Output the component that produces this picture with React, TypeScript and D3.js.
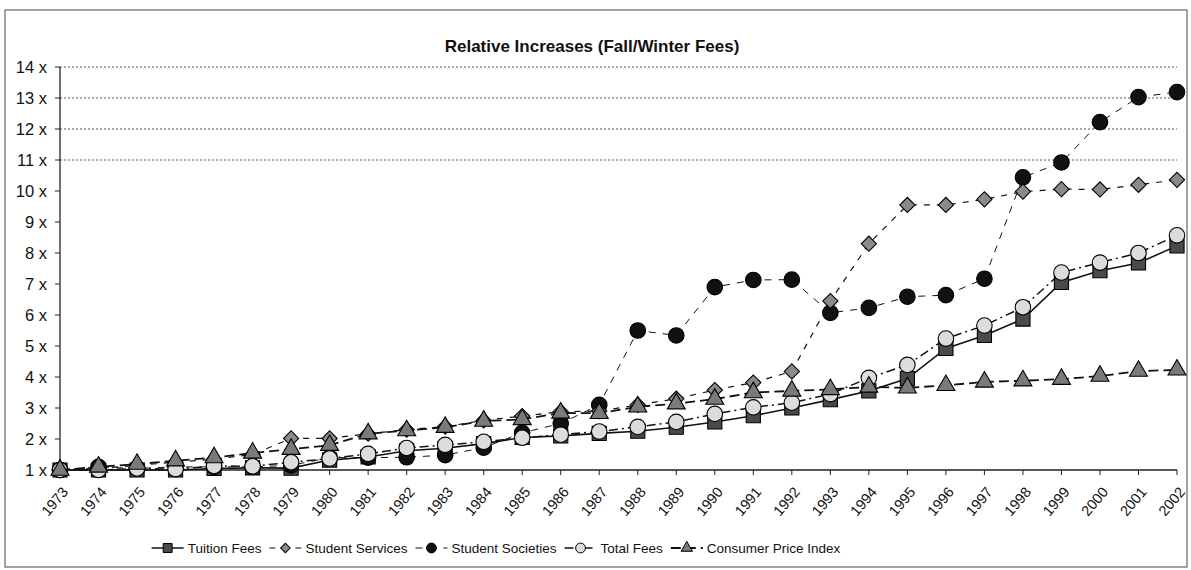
import { useMemo } from 'react'
import * as d3 from 'd3'

const years = [
  '1973', '1974', '1975', '1976', '1977', '1978', '1979', '1980', '1981', '1982',
  '1983', '1984', '1985', '1986', '1987', '1988', '1989', '1990', '1991', '1992',
  '1993', '1994', '1995', '1996', '1997', '1998', '1999', '2000', '2001', '2002',
]

const tuitionFees = [1.0, 1.0, 1.0, 1.0, 1.05, 1.07, 1.06, 1.32, 1.42, 1.62, 1.7, 1.85, 2.05, 2.1, 2.18, 2.25, 2.38, 2.55, 2.75, 3.0, 3.27, 3.55, 3.95, 4.92, 5.34, 5.87, 7.05, 7.43, 7.68, 8.23]
const studentServices = [1.0, 1.05, 1.15, 1.25, 1.35, 1.5, 2.02, 2.02, 2.17, 2.3, 2.4, 2.6, 2.74, 2.88, 2.9, 3.1, 3.3, 3.58, 3.82, 4.18, 6.45, 8.3, 9.55, 9.55, 9.73, 9.98, 10.06, 10.05, 10.2, 10.36]
const studentSocieties = [1.0, 1.1, 1.05, 1.1, 1.1, 1.1, 1.15, 1.4, 1.4, 1.41, 1.48, 1.72, 2.2, 2.5, 3.1, 5.5, 5.34, 6.9, 7.13, 7.14, 6.07, 6.23, 6.59, 6.64, 7.17, 10.44, 10.92, 12.22, 13.03, 13.19]
const totalFees = [1.0, 1.0, 1.05, 1.03, 1.13, 1.12, 1.25, 1.37, 1.52, 1.71, 1.81, 1.91, 2.04, 2.14, 2.24, 2.39, 2.55, 2.81, 3.02, 3.17, 3.45, 3.97, 4.39, 5.24, 5.66, 6.25, 7.37, 7.69, 8.0, 8.57]
const consumerPriceIndex = [1.0, 1.1, 1.19, 1.3, 1.4, 1.55, 1.67, 1.8, 2.17, 2.27, 2.38, 2.58, 2.63, 2.84, 2.83, 3.04, 3.14, 3.29, 3.5, 3.55, 3.6, 3.68, 3.65, 3.73, 3.84, 3.88, 3.93, 4.03, 4.19, 4.23]

const yTicks = [1, 2, 3, 4, 5, 6, 7, 8, 9, 10, 11, 12, 13, 14]
const gridTicks = [11, 12, 13, 14]

type Series = {
  name: string
  values: number[]
  symbol: d3.SymbolType
  size: number
  rotate: number
  fill: string
  dash: string
  width: number
}

// drawing order matters: later series sit on top
const series: Series[] = [
  { name: 'Tuition Fees', values: tuitionFees, symbol: d3.symbolSquare, size: 200, rotate: 0, fill: '#4a4a4a', dash: '', width: 1.6 },
  { name: 'Student Societies', values: studentSocieties, symbol: d3.symbolCircle, size: 190, rotate: 0, fill: '#111', dash: '7,7', width: 1 },
  { name: 'Student Services', values: studentServices, symbol: d3.symbolSquare, size: 115, rotate: 45, fill: '#8a8a8a', dash: '6,7', width: 1.2 },
  { name: 'Total Fees', values: totalFees, symbol: d3.symbolCircle, size: 190, rotate: 0, fill: '#dcdcdc', dash: '9,4,2,4', width: 1.5 },
  { name: 'Consumer Price Index', values: consumerPriceIndex, symbol: d3.symbolTriangle, size: 140, rotate: 0, fill: '#7a7a7a', dash: '10,5', width: 1.8 },
]

const legendOrder = ['Tuition Fees', 'Student Services', 'Student Societies', 'Total Fees', 'Consumer Price Index']

const W = 1191
const H = 570
const FONT = '"Liberation Sans", Arial, sans-serif'

function textWidth(s: string, font: string) {
  const ctx = document.createElement('canvas').getContext('2d')
  if (!ctx) return s.length * 7
  ctx.font = font
  return ctx.measureText(s).width
}

export default function App() {
  const x = d3.scalePoint<string>().domain(years).range([60, 1177]).padding(0)
  const y = d3.scaleLinear().domain([1, 14]).range([470, 67])

  const legendFont = 13.5
  const sampleW = 32
  const legendItems = useMemo(() => {
    const items = legendOrder.map(n => {
      const s = series.find(d => d.name === n)!
      return { s, tw: textWidth(n, `${legendFont}px "Liberation Sans"`) }
    })
    const total = d3.sum(items, d => sampleW + 4 + d.tw) + (items.length - 1) * 8
    let cx = 496 - total / 2
    return items.map(d => {
      const pos = cx
      cx += sampleW + 4 + d.tw + 8
      return { ...d, x0: pos }
    })
  }, [])

  const line = d3.line<number>().x((_, i) => x(years[i])!).y(d => y(d))
  const y0 = y(1)

  return (
    <svg width={W} height={H} style={{ position: 'absolute', left: 0, top: 0, background: '#fff' }} fontFamily={FONT}>
      <rect x={0} y={0} width={W} height={H} fill="#fff" />
      <rect x={5} y={10} width={1182} height={557} fill="none" stroke="#666" strokeWidth={1.2} />

      <text x={592} y={52} textAnchor="middle" fontSize={17} fontWeight="bold" fill="#111">
        Relative Increases (Fall/Winter Fees)
      </text>

      {/* gridlines */}
      {gridTicks.map(t => (
        <line key={t} x1={60} x2={1177} y1={y(t)} y2={y(t)} stroke="#555" strokeWidth={1} strokeDasharray="2,2" />
      ))}

      {/* y axis */}
      <line x1={60} x2={60} y1={y(14)} y2={y0} stroke="#222" strokeWidth={1.3} />
      {yTicks.map(t => (
        <g key={t}>
          <line x1={55} x2={60} y1={y(t)} y2={y(t)} stroke="#222" />
          <text x={47} y={y(t)} dy="0.35em" textAnchor="end" fontSize={16.5} fill="#111">{`${t} x`}</text>
        </g>
      ))}

      {/* x axis */}
      <line x1={60} x2={1177} y1={y0} y2={y0} stroke="#222" strokeWidth={1.3} />
      {years.map(yr => (
        <g key={yr}>
          <line x1={x(yr)} x2={x(yr)} y1={y0} y2={y0 + 5} stroke="#222" />
          <text
            transform={`translate(${x(yr)! + 5},${y0 + 19}) rotate(-50)`}
            textAnchor="end"
            dy="0.35em"
            fontSize={14.5}
            fill="#111"
          >
            {yr}
          </text>
        </g>
      ))}

      {/* series */}
      {series.map(s => (
        <g key={s.name}>
          <path d={line(s.values) ?? ''} fill="none" stroke="#111" strokeWidth={s.width} strokeDasharray={s.dash || undefined} />
          {s.values.map((v, i) => (
            <path
              key={i}
              d={d3.symbol().type(s.symbol).size(s.size)() ?? ''}
              transform={`translate(${x(years[i])},${y(v)}) rotate(${s.rotate})`}
              fill={s.fill}
              stroke="#000"
              strokeWidth={1.1}
            />
          ))}
        </g>
      ))}

      {/* legend */}
      {legendItems.map(({ s, x0 }) => (
        <g key={s.name} transform={`translate(${x0},548)`}>
          <line x1={0} x2={sampleW} y1={0} y2={0} stroke="#111" strokeWidth={s.width} strokeDasharray={s.dash || undefined} />
          <path
            d={d3.symbol().type(s.symbol).size(s.size * 0.4)() ?? ''}
            transform={`translate(${sampleW / 2},0) rotate(${s.rotate})`}
            fill={s.fill}
            stroke="#000"
            strokeWidth={1}
          />
          <text x={sampleW + 4} y={0} dy="0.35em" fontSize={legendFont} fill="#111">{s.name}</text>
        </g>
      ))}
    </svg>
  )
}
